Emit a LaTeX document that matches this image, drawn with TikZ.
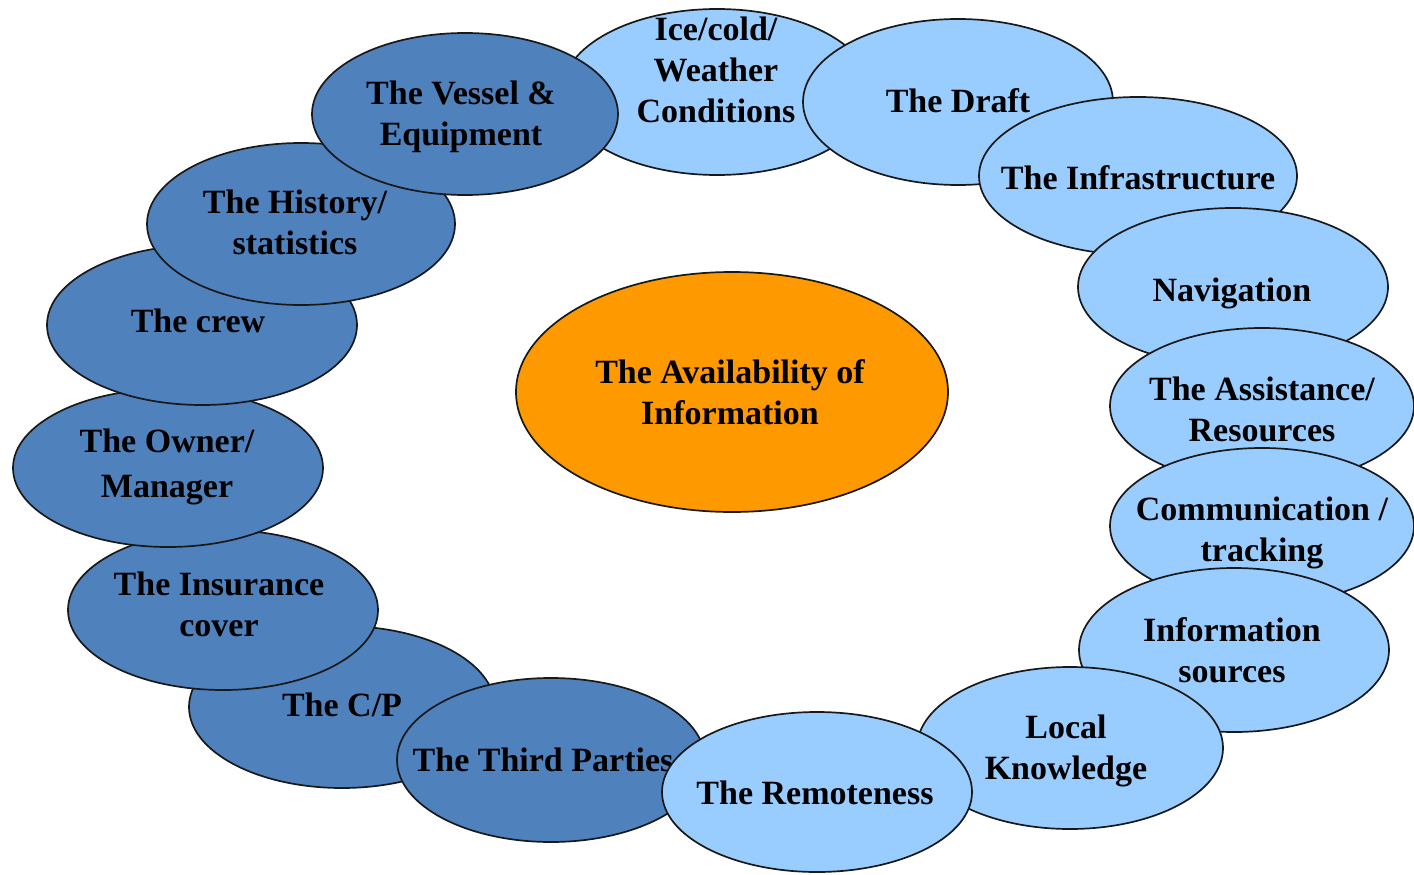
\documentclass[tikz,border=0pt]{standalone}
\usepackage{fontspec}
\setmainfont{Liberation Serif}
\usetikzlibrary{shapes.geometric}
\definecolor{lightblue}{HTML}{99CCFF}
\definecolor{darkblue}{HTML}{4F81BD}
\definecolor{orangec}{HTML}{FF9900}
\begin{document}
\begin{tikzpicture}[x=1pt,y=-1pt,
  oval/.style 2 args={ellipse, draw=black!90, line width=1.7pt, inner sep=0pt, minimum width=#1, minimum height=#2},
  lb/.style={fill=lightblue},
  db/.style={fill=darkblue},
  oc/.style={fill=orangec},
  lbl/.style={align=center, inner sep=0pt, text=black, font=\bfseries\fontsize{34}{41}\selectfont}]
\useasboundingbox (0,0) rectangle (1414,875);
% left (dark) side, bottom of the stack first
\node[oval={306pt}{162pt}, db] (ecp) at (342,707) {};
\node[lbl] (tcp) at (342,705) {The C/P};
\node[oval={310pt}{160pt}, db] (eins) at (223,610) {};
\node[lbl] (tins) at (219,604) {The Insurance\\cover};
\node[oval={310pt}{158pt}, db] (eown) at (168,468) {};
\node[lbl] (town) at (167,467) {The Owner/\\[4pt]Manager};
\node[oval={310pt}{160pt}, db] (ecrew) at (202,325) {};
\node[lbl] (tcrew) at (198,321) {The crew};
\node[oval={308pt}{162pt}, db] (ehist) at (301,224) {};
\node[lbl] (thist) at (295,222) {The History/\\statistics};
% top
\node[oval={310pt}{166pt}, lb] (eice) at (717,92) {};
\node[lbl] (tice) at (716,70) {Ice/cold/\\Weather\\Conditions};
\node[oval={306pt}{162pt}, db] (eves) at (465,114) {};
\node[lbl] (tves) at (461,117) {The Vessel \&\\Equipment};
% right (light) side
\node[oval={310pt}{166pt}, lb] (edraft) at (958,102) {};
\node[lbl] (tdraft) at (958,101) {The Draft};
\node[oval={318pt}{158pt}, lb] (einfra) at (1138,176) {};
\node[lbl] (tinfra) at (1138,178) {The Infrastructure};
\node[oval={310pt}{158pt}, lb] (enav) at (1233,287) {};
\node[lbl] (tnav) at (1232,293) {Navigation};
\node[oval={304pt}{156pt}, lb] (eass) at (1262,406) {};
\node[lbl] (tass) at (1262,409) {The Assistance/\\Resources};
\node[oval={304pt}{156pt}, lb] (ecom) at (1262,526) {};
\node[lbl] (tcom) at (1262,533) {Communication /\\tracking};
\node[oval={310pt}{164pt}, lb] (einfo) at (1234,650) {};
\node[lbl] (tinfo) at (1232,650) {Information\\sources};
\node[oval={306pt}{162pt}, lb] (eloc) at (1070,748) {};
\node[lbl] (tloc) at (1066,751) {Local\\Knowledge};
% bottom
\node[oval={308pt}{164pt}, db] (ethird) at (551,760) {};
\node[lbl] (tthird) at (543,760) {The Third Parties};
\node[oval={310pt}{160pt}, lb] (erem) at (817,792) {};
\node[lbl] (trem) at (815,793) {The Remoteness};
% centre
\node[oval={432pt}{240pt}, oc] (ecen) at (732,392) {};
\node[lbl] (tcen) at (730,392) {The Availability of\\Information};
\end{tikzpicture}
\end{document}
